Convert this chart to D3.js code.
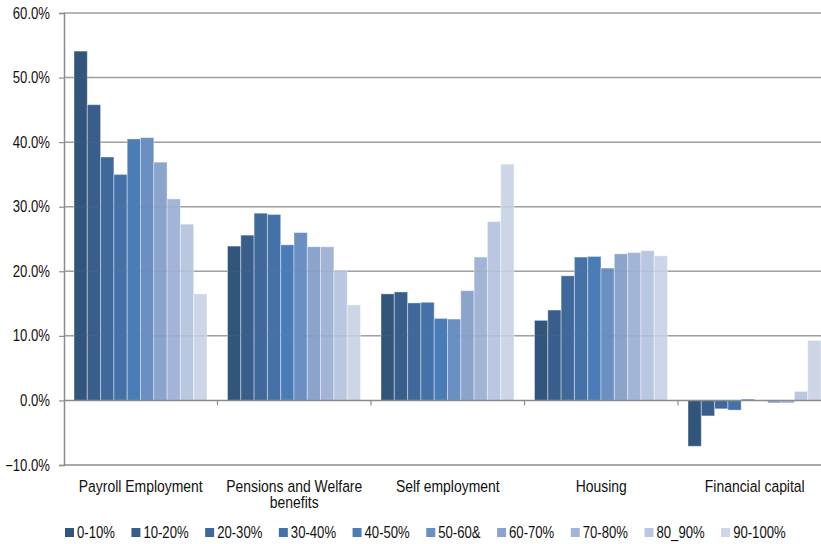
<!DOCTYPE html>
<html>
<head>
<meta charset="utf-8">
<script src="https://cdn.jsdelivr.net/npm/d3@7"></script>
<style>
  html, body { margin: 0; padding: 0; background: #fff; }
  svg { display: block; }
  text { font-family: "Liberation Sans", Arial, sans-serif; fill: #111; }
</style>
</head>
<body>
<svg id="chart" width="821" height="544"></svg>
<script>
// Income sources by decile band
const categories = ["Payroll Employment", "Pensions and Welfare benefits", "Self employment", "Housing", "Financial capital"];
const seriesNames = ["0-10%", "10-20%", "20-30%", "30-40%", "40-50%", "50-60&", "60-70%", "70-80%", "80_90%", "90-100%"];
const seriesColors = ["#32557c", "#3a5e8c", "#3f689b", "#4472a8", "#4a7db7", "#6a8fc2", "#8aa4cc", "#a3b5d6", "#bac7e0", "#cdd6e7"];

// values in percent, one array per category, ordered by band
const payroll   = [54.1, 45.8, 37.7, 35.0, 40.5, 40.7, 36.9, 31.2, 27.3, 16.5];
const pensions  = [23.9, 25.6, 29.0, 28.8, 24.1, 26.0, 23.8, 23.8, 20.2, 14.8];
const selfEmp   = [16.5, 16.8, 15.1, 15.2, 12.7, 12.6, 17.0, 22.2, 27.7, 36.6];
const housing   = [12.4, 14.0, 19.3, 22.2, 22.3, 20.5, 22.7, 22.9, 23.2, 22.4];
const financial = [-7.1, -2.4, -1.3, -1.5, 0.2, -0.1, -0.4, -0.4, 1.4, 9.3];
const valuesByCategory = [payroll, pensions, selfEmp, housing, financial];

const yTicks = [-10, 0, 10, 20, 30, 40, 50, 60];

// narrow lettering: regular face squeezed horizontally
const NARROW = 0.82;

const svg = d3.select("#chart");
const W = 821;
const plot = { left: 64, top: 13, bottom: 465 };
const step = 153.5;

const x0 = d3.scaleBand()
  .domain(categories)
  .range([plot.left, plot.left + step * categories.length])
  .paddingInner(0)
  .paddingOuter(0);

const x1 = d3.scaleBand()
  .domain(seriesNames)
  .range([10, step - 10.5])
  .padding(0);

const y = d3.scaleLinear().domain([-10, 60]).range([plot.bottom, plot.top]);
const color = d3.scaleOrdinal().domain(seriesNames).range(seriesColors);

const gridColor = "#a6a6a6";

// horizontal gridlines
svg.append("g")
  .selectAll("line")
  .data(yTicks.filter(t => t > 0))
  .join("line")
  .attr("x1", plot.left).attr("x2", W)
  .attr("y1", d => y(d)).attr("y2", d => y(d))
  .attr("stroke", gridColor).attr("stroke-width", 1.5);

// bars
const groups = svg.append("g")
  .selectAll("g")
  .data(categories.map((c, i) => ({ cat: c, vals: valuesByCategory[i] })))
  .join("g")
  .attr("transform", d => `translate(${x0(d.cat)},0)`);

groups.selectAll("rect")
  .data(d => d.vals.map((v, j) => ({ name: seriesNames[j], v })))
  .join("rect")
  .attr("x", d => x1(d.name))
  .attr("width", x1.bandwidth())
  .attr("y", d => y(Math.max(0, d.v)))
  .attr("height", d => Math.abs(y(d.v) - y(0)))
  .attr("fill", d => color(d.name))
  .attr("stroke", "#ffffff")
  .attr("stroke-opacity", 0.4)
  .attr("stroke-width", 1);

// faint gridlines showing through the bars
svg.append("g")
  .selectAll("line")
  .data(yTicks.filter(t => t > 0))
  .join("line")
  .attr("x1", plot.left).attr("x2", W)
  .attr("y1", d => y(d)).attr("y2", d => y(d))
  .attr("stroke", "#7a7a7a").attr("stroke-opacity", 0.12).attr("stroke-width", 1.5);

// zero line with category ticks
svg.append("line")
  .attr("x1", plot.left).attr("x2", W)
  .attr("y1", y(0)).attr("y2", y(0))
  .attr("stroke", "#8c8c8c").attr("stroke-width", 1.5);

svg.append("g")
  .selectAll("line")
  .data(categories.slice(1))
  .join("line")
  .attr("x1", d => x0(d)).attr("x2", d => x0(d))
  .attr("y1", y(0)).attr("y2", y(0) + 5)
  .attr("stroke", "#8c8c8c").attr("stroke-width", 1.2);

// bottom line at -10%
svg.append("line")
  .attr("x1", plot.left).attr("x2", W)
  .attr("y1", y(-10)).attr("y2", y(-10))
  .attr("stroke", "#8c8c8c").attr("stroke-width", 1.5);

// y axis
const yAxis = d3.axisLeft(y)
  .tickValues(yTicks)
  .tickSize(5)
  .tickPadding(8)
  .tickFormat(d => d3.format(".1f")(d) + "%");

const gy = svg.append("g")
  .attr("transform", `translate(${plot.left},0)`)
  .call(yAxis);
gy.select(".domain").attr("stroke", "#8c8c8c").attr("stroke-width", 1.5);
gy.selectAll(".tick line").attr("stroke", "#8c8c8c").attr("stroke-width", 1.2);
gy.selectAll(".tick text")
  .attr("font-size", 16)
  .attr("font-family", null)
  .attr("x", 0)
  .attr("transform", `translate(-14,0) scale(${NARROW},1)`)
  .style("fill", "#111");

// category labels, wrapped to the band width
const catLabels = svg.append("g")
  .selectAll("text")
  .data(categories)
  .join("text")
  .attr("transform", d => `translate(${x0(d) + step / 2},491.5) scale(${NARROW},1)`)
  .attr("text-anchor", "middle")
  .attr("font-size", 17);

catLabels.each(function (d) {
  const t = d3.select(this);
  const words = d.split(" ");
  const maxW = (step - 12) / NARROW;
  let line = [];
  let tspan = t.append("tspan").attr("x", 0).attr("dy", 0);
  words.forEach(w => {
    line.push(w);
    tspan.text(line.join(" "));
    if (tspan.node().getComputedTextLength() > maxW && line.length > 1) {
      line.pop();
      tspan.text(line.join(" "));
      line = [w];
      tspan = t.append("tspan").attr("x", 0).attr("dy", 17).text(w);
    }
  });
});

// legend
const legend = svg.append("g");
let lx = 65;
seriesNames.forEach(name => {
  const g = legend.append("g").attr("transform", `translate(${lx},0)`);
  g.append("rect")
    .attr("x", 0).attr("y", 528)
    .attr("width", 9).attr("height", 9)
    .attr("fill", color(name));
  const txt = g.append("text")
    .attr("transform", `translate(12,537.5) scale(${NARROW},1)`)
    .attr("font-size", 16)
    .text(name);
  lx += 12 + txt.node().getComputedTextLength() * NARROW + 16.5;
});
</script>
</body>
</html>
